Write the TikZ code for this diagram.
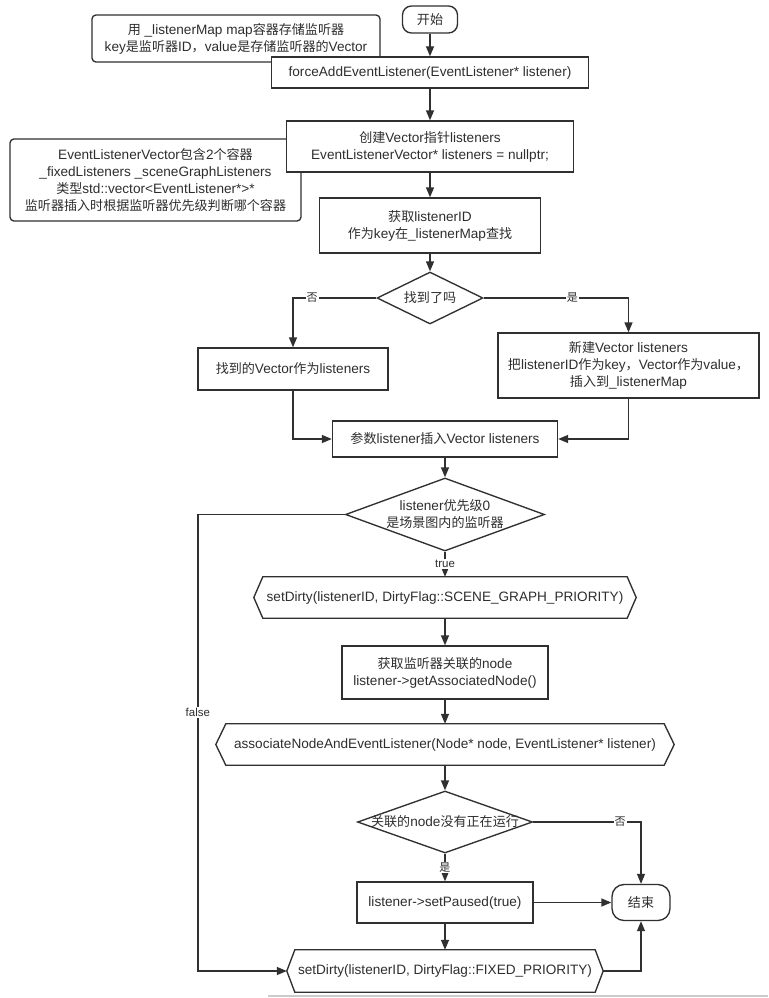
\documentclass[tikz,border=0pt]{standalone}
\usepackage{fontspec}
\setmainfont{Liberation Sans}
\newfontfamily\latfont{Liberation Sans}
\newfontfamily\cjkfont{Noto Sans CJK SC}[Scale=0.96]
\XeTeXinterchartokenstate=1
\newXeTeXintercharclass\cjkcls
\count255="3000
\loop\ifnum\count255<"A000 \XeTeXcharclass\count255=\cjkcls \advance\count255 by 1 \repeat
\count255="FF00
\loop\ifnum\count255<"FFF0 \XeTeXcharclass\count255=\cjkcls \advance\count255 by 1 \repeat
\XeTeXinterchartoks 0 \cjkcls = {\cjkfont}
\XeTeXinterchartoks 4095 \cjkcls = {\cjkfont}
\XeTeXinterchartoks \cjkcls 0 = {\latfont}
\XeTeXinterchartoks \cjkcls 4095 = {\latfont}
\usetikzlibrary{arrows.meta,shapes.geometric,calc}
\definecolor{lc}{HTML}{303030}
\definecolor{tc}{HTML}{2E2E2E}
\newcommand\mainsz{\fontsize{13.6}{17}\selectfont}
\newcommand\lblsz{\fontsize{11.5}{14}\selectfont}
\newcommand\hexdraw[2]{\draw[ln] ($(#1.north west)+(#2,0)$) -- ($(#1.north east)+(-#2,0)$) -- (#1.east) -- ($(#1.south east)+(-#2,0)$) -- ($(#1.south west)+(#2,0)$) -- (#1.west) -- cycle;}
\begin{document}
\begin{tikzpicture}[x=1pt,y=-1pt,
  ln/.style={line width=1.35pt,draw=lc},
  arr/.style={ln,-{Triangle[length=10pt,width=8pt]}},
  box/.style={draw=lc,line width=1.35pt,fill=white,align=center,inner sep=0pt,font=\mainsz,text=tc},
  note/.style={box,rounded corners=4pt},
  term/.style={box,rounded corners=9pt},
  hex/.style={align=center,inner sep=0pt,font=\mainsz,text=tc},
  dia/.style={draw=lc,line width=1.35pt,fill=white,shape=diamond,inner sep=0pt},
  txt/.style={align=center,inner sep=0pt,font=\mainsz,text=tc},
  lbl/.style={fill=white,inner sep=1pt,font=\lblsz,text=tc}]
\useasboundingbox (0,0) rectangle (768,998);
\fill[white] (0,0) rectangle (768,998);
% notes (behind)
\node[note,minimum width=288,minimum height=47] (n1) at (236,38.5) {用 \_listenerMap map容器存储监听器\\key是监听器ID，value是存储监听器的Vector};
\node[note,minimum width=291,minimum height=82] (n2) at (155.5,180) {EventListenerVector包含2个容器\\\_fixedListeners \_sceneGraphListeners\\类型std::vector<EventListener*>*\\监听器插入时根据监听器优先级判断哪个容器};
% main column
\node[term,minimum width=55,minimum height=27] (start) at (430,19.5) {开始};
\node[box,minimum width=317,minimum height=31] (force) at (430,72.5) {forceAddEventListener(EventListener* listener)};
\node[box,minimum width=287,minimum height=51] (create) at (430,146.5) {创建Vector指针listeners\\EventListenerVector* listeners = nullptr;};
\node[box,minimum width=221,minimum height=55] (getid) at (430,225.5) {获取listenerID\\作为key在\_listenerMap查找};
\node[dia,minimum width=106,minimum height=52] (d1) at (430,298) {};
\node[txt] (d1t) at (d1) {找到了吗};
\node[box,minimum width=190,minimum height=42] (found) at (293,369) {找到的Vector作为listeners};
\node[box,minimum width=261,minimum height=65] (newv) at (628.5,365.5) {新建Vector listeners\\把listenerID作为key，Vector作为value，\\插入到\_listenerMap};
\node[box,minimum width=225,minimum height=36] (insert) at (445,439) {参数listener插入Vector listeners};
\node[dia,minimum width=199,minimum height=73] (d2) at (445,514.5) {};
\node[txt] (d2t) at (d2) {listener优先级0\\是场景图内的监听器};
\node[hex,minimum width=382,minimum height=41] (h1) at (445,597.5) {setDirty(listenerID, DirtyFlag::SCENE\_GRAPH\_PRIORITY)};
\hexdraw{h1}{9}
\node[box,minimum width=206,minimum height=53] (assoc) at (445,672.5) {获取监听器关联的node\\listener->getAssociatedNode()};
\node[hex,minimum width=458,minimum height=41] (h2) at (445,744.5) {associateNodeAndEventListener(Node* node, EventListener* listener)};
\hexdraw{h2}{10}
\node[dia,minimum width=175,minimum height=62] (d3) at (445,822) {};
\node[txt] (d3t) at (d3) {关联的node没有正在运行};
\node[box,minimum width=176,minimum height=41] (pause) at (445,902.5) {listener->setPaused(true)};
\node[box,rounded corners=12pt,minimum width=58,minimum height=36] (end) at (641,902.5) {结束};
\node[hex,minimum width=316,minimum height=42] (h3) at (445,971) {setDirty(listenerID, DirtyFlag::FIXED\_PRIORITY)};
\hexdraw{h3}{8}
% connectors
\draw[arr] (start) -- (force);
\draw[arr] (force) -- (create);
\draw[arr] (create) -- (getid);
\draw[arr] (getid) -- (d1);
\draw[arr] (d1.west) -| node[lbl,pos=0.385]{否} (found.north);
\draw[arr] (d1.east) -| node[lbl,pos=0.306]{是} (newv.north);
\draw[arr] (found.south) |- (insert.west);
\draw[arr] (newv.south) |- (insert.east);
\draw[arr] (insert) -- (d2);
\draw[arr] (d2.south) -- node[lbl]{true} (h1.north);
\draw[arr] (h1) -- (assoc);
\draw[arr] (assoc) -- (h2);
\draw[arr] (h2) -- (d3);
\draw[arr] (d3.south) -- node[lbl]{是} (pause.north);
\draw[arr] (pause) -- (end);
\draw[arr] (pause) -- (h3);
\draw[arr] (d3.east) -| node[lbl,pos=0.403]{否} (end.north);
\draw[arr] (h3.east) -| (end.south);
\draw[arr] (d2.west) -- ++(-147,0) |- node[lbl,pos=0.217]{false} (h3.west);
% bottom grey rule
\draw[line width=2pt,draw=black!20] (268,996) -- (768,996);
\end{tikzpicture}
\end{document}
